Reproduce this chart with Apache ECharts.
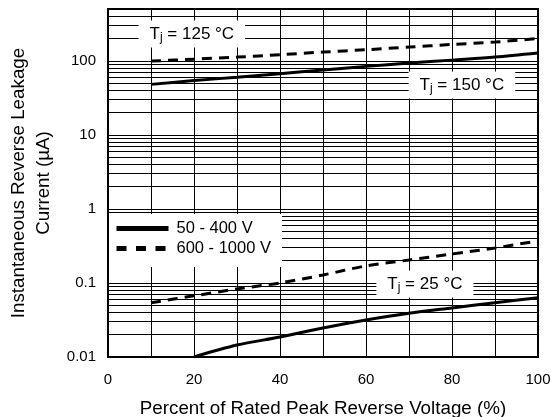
<!DOCTYPE html>
<html>
<head>
<meta charset="utf-8">
<script src="https://cdn.jsdelivr.net/npm/echarts@6/dist/echarts.min.js"></script>
<style>
  html, body { margin: 0; padding: 0; background: #fff; }
  #chart { width: 551px; height: 417px; }
</style>
</head>
<body>
<div id="chart"></div>
<script>
// percent of rated peak reverse voltage
const pctX = [10, 20, 30, 40, 50, 60, 70, 80, 90, 100];
const pctX25Solid = [20, 30, 40, 50, 60, 70, 80, 90, 100];

// leakage current, uA
const hot150Solid = [48, 54, 60, 67, 75, 84, 93, 102, 112, 127];
const hot125Dashed = [99, 105, 112, 121, 131, 141, 153, 166, 179, 200];
const cold25Dashed = [0.054, 0.067, 0.083, 0.1, 0.128, 0.17, 0.204, 0.246, 0.297, 0.37];
const cold25Solid = [0.01, 0.0145, 0.0186, 0.0247, 0.0316, 0.039, 0.046, 0.054, 0.063];

const seriesNames = ["50 - 400 V", "600 - 1000 V"];
const yDecades = [0.01, 0.1, 1, 10, 100];
const xLabels = [0, 20, 40, 60, 80, 100];

// temperature notes: [label, x, y]
const tempNotes = [
  ["125", 19.5, 230],
  ["150", 82.3, 47],
  ["25", 73.7, 0.097],
];

const chart = echarts.init(document.getElementById("chart"), null, { renderer: "canvas" });

const minorLines = [];
yDecades.forEach((d) => {
  for (let k = 2; k <= 9; k++) {
    const v = d * k;
    if (v < 500) minorLines.push({ yAxis: v });
  }
});

const pair = (xs, ys) => xs.map((x, i) => [x, ys[i]]);

const curve = (name, data, dashed) => ({
  name,
  type: "line",
  data,
  symbol: "none",
  smooth: 0.3,
  z: 5,
  lineStyle: { color: "#000", width: 3, type: dashed ? [10, 7] : "solid" },
  itemStyle: { color: "#000" },
});

const noDot = { color: "rgba(0,0,0,0)", borderWidth: 0, opacity: 0 };

chart.setOption({
  animation: false,
  backgroundColor: "#fff",
  textStyle: { fontFamily: "Liberation Sans, Arial, sans-serif", color: "#000" },
  grid: {
    left: 108, right: 13, top: 9, bottom: 60,
    outerBoundsMode: "none",
    containLabel: false,
    show: true, borderColor: "#000", borderWidth: 2,
  },
  legend: {
    orient: "vertical",
    left: 109,
    top: 214,
    backgroundColor: "#fff",
    padding: [6, 11, 10, 5],
    itemWidth: 52,
    itemHeight: 12,
    itemGap: 3,
    z: 20,
    textStyle: { fontSize: 16.5, color: "#000", padding: [0, 0, 0, 3] },
    data: [
      { name: seriesNames[0], itemStyle: noDot, lineStyle: { width: 5 } },
      { name: seriesNames[1], itemStyle: noDot, lineStyle: { width: 5, type: [10, 9.5] } },
    ],
  },
  xAxis: {
    type: "value",
    min: 0,
    max: 100,
    interval: 10,
    name: "Percent of Rated Peak Reverse Voltage (%)",
    nameLocation: "middle",
    nameGap: 42,
    nameTextStyle: { fontSize: 18.8, color: "#000" },
    axisLine: { show: false },
    axisTick: { show: false },
    axisLabel: {
      fontSize: 15,
      color: "#000",
      margin: 15,
      formatter: (v) => (xLabels.includes(v) ? String(v) : ""),
    },
    splitLine: { lineStyle: { color: "#000", width: 1 } },
  },
  yAxis: {
    type: "log",
    logBase: 10,
    min: 0.01,
    max: 500,
    name: "Instantaneous Reverse Leakage\nCurrent (µA)",
    nameLocation: "middle",
    nameRotate: 90,
    nameGap: 48,
    nameTextStyle: { fontSize: 18.8, lineHeight: 25, color: "#000" },
    axisLine: { show: false },
    axisTick: { show: false },
    axisLabel: {
      fontSize: 15,
      color: "#000",
      margin: 12,
      verticalAlign: "middle",
      verticalAlignMinLabel: "middle",
      verticalAlignMaxLabel: "middle",
      formatter: (v) => {
        const hit = yDecades.find((d) => Math.abs(Math.log10(v) - Math.log10(d)) < 1e-6);
        return hit !== undefined ? String(hit) : "";
      },
    },
    splitLine: { lineStyle: { color: "#000", width: 1 } },
  },
  series: [
    {
      name: "grid-minor",
      type: "line",
      data: [],
      z: 1,
      markLine: {
        silent: true,
        symbol: "none",
        label: { show: false },
        lineStyle: { color: "#000", width: 1, type: "solid" },
        data: minorLines,
      },
      markPoint: {
        silent: true,
        symbol: "rect",
        symbolSize: 1,
        itemStyle: { color: "rgba(0,0,0,0)" },
        z: 10,
        label: {
          show: true,
          position: "inside",
          backgroundColor: "#fff",
          padding: [4, 11, 4, 11],
          formatter: (p) => p.name,
          rich: {
            a: { fontSize: 17, color: "#000", lineHeight: 19, verticalAlign: "middle" },
            s: { fontSize: 12, color: "#000", lineHeight: 19, verticalAlign: "bottom" },
          },
        },
        data: tempNotes.map(([t, x, y]) => ({
          name: "{a|T}{s|j}{a| = " + t + " °C}",
          coord: [x, y],
        })),
      },
    },
    curve(seriesNames[0], pair(pctX, hot150Solid), false),
    curve(seriesNames[1], pair(pctX, hot125Dashed), true),
    curve(seriesNames[1], pair(pctX, cold25Dashed), true),
    curve(seriesNames[0], pair(pctX25Solid, cold25Solid), false),
  ],
});
</script>
</body>
</html>
